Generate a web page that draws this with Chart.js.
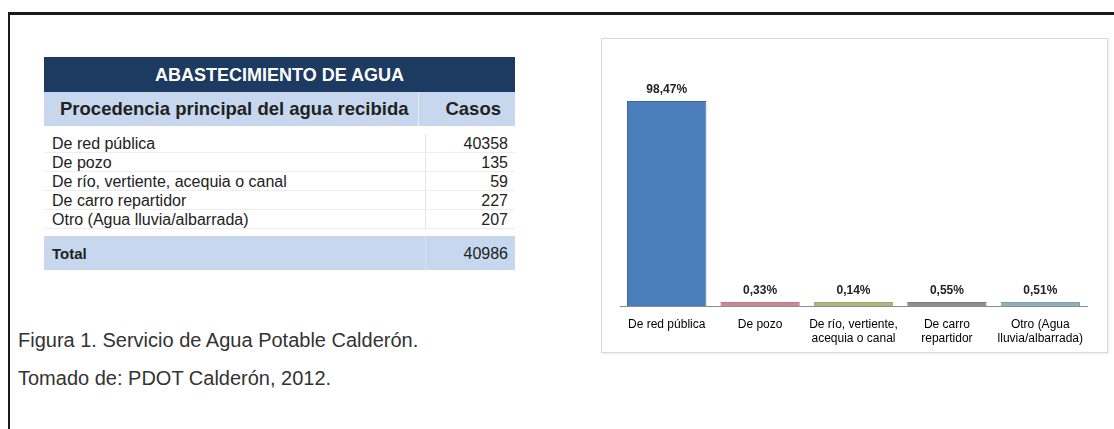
<!DOCTYPE html>
<html>
<head>
<meta charset="utf-8">
<script src="https://cdn.jsdelivr.net/npm/chart.js@4.4.0/dist/chart.umd.min.js"></script>
<style>
  body { margin: 0; background: #fff; font-family: "Liberation Sans", Arial, sans-serif; }
  #page { position: relative; width: 1114px; height: 429px; overflow: hidden; }
  #marco { position: absolute; left: 8px; top: 12px; width: 1200px; height: 500px;
           border-top: 3px solid #1a1a1a; border-left: 2px solid #1a1a1a; }
  #tabla { position: absolute; left: 44px; top: 57px; width: 471px; color: #222; }
  .titulo { height: 35px; line-height: 36px; background: #1d3a60; color: #fff;
            font-weight: bold; font-size: 18px; text-align: center; }
  .cab { height: 34px; line-height: 34px; background: #c7d8ee; font-weight: bold; font-size: 18.5px; display: flex; }
  .filas { padding-top: 8px; }
  .fila { height: 18px; line-height: 19px; font-size: 16px; display: flex; border-bottom: 1px solid #eee; }
  .c1 { flex: 1; padding-left: 8px; border-right: 1px solid #e4e4e4; }
  .c2 { width: 82px; text-align: right; padding-right: 7px; }
  .cab .c1 { padding-left: 16px; border-right: 1px solid #e8eef6; }
  .cab .c2 { text-align: right; padding-right: 14px; }
  .total { margin-top: 7px; height: 34px; line-height: 36px; background: #c7d8ee; font-weight: bold; font-size: 15px; display: flex; }
  .total .c1 { border-right: 1px solid #d6e2f2; }
  .total .c2 { font-weight: normal; font-size: 16px; }
  #grafico { position: absolute; left: 601px; top: 38px; width: 505px; height: 313px; border: 1px solid #d9d9d9;
             box-shadow: 1px 1px 2px rgba(0,0,0,0.08); }
  .nota { position: absolute; left: 18px; font-size: 20px; color: #333; }
</style>
</head>
<body>
<div id="page">
  <div id="marco"></div>
  <div id="tabla"></div>
  <div id="grafico"><canvas id="barras" width="505" height="313"></canvas></div>
  <div class="nota" style="top:329px">Figura 1. Servicio de Agua Potable Calderón.</div>
  <div class="nota" style="top:367px">Tomado de: PDOT Calderón, 2012.</div>
</div>
<script>
const procedencias = ['De red pública', 'De pozo', 'De río, vertiente, acequia o canal', 'De carro repartidor', 'Otro (Agua lluvia/albarrada)'];
const casos = [40358, 135, 59, 227, 207];
const totalCasos = 40986;
const etiquetas = [['De red pública'], ['De pozo'], ['De río, vertiente,', 'acequia o canal'], ['De carro', 'repartidor'], ['Otro (Agua', 'lluvia/albarrada)']];
const porcentajes = [98.47, 0.33, 0.14, 0.55, 0.51];
const colores = ['#4a7ebb', '#c98a92', '#a9b882', '#8f8c99', '#8fb1bf'];
const bordes = ['#3b69a3', '#b87a82', '#97a870', '#7d7a88', '#7c9fae'];

// tabla
let html = '<div class="titulo">ABASTECIMIENTO DE AGUA</div>';
html += '<div class="cab"><div class="c1">Procedencia principal del agua recibida</div><div class="c2">Casos</div></div>';
html += '<div class="filas">';
procedencias.forEach((p, i) => {
    html += '<div class="fila"><div class="c1">' + p + '</div><div class="c2">' + casos[i] + '</div></div>';
});
html += '</div>';
html += '<div class="total"><div class="c1">Total</div><div class="c2">' + totalCasos + '</div></div>';
document.getElementById('tabla').innerHTML = html;

// etiquetas de valor sobre las barras
const valoresPlugin = {
    id: 'valores',
    afterDatasetsDraw(chart) {
        const ctx = chart.ctx;
        const meta = chart.getDatasetMeta(0);
        ctx.save();
        ctx.font = 'bold 12px "Liberation Sans", Arial, sans-serif';
        ctx.fillStyle = '#222';
        ctx.textAlign = 'center';
        ctx.textBaseline = 'bottom';
        meta.data.forEach((bar, i) => {
            ctx.fillText(porcentajes[i].toFixed(2).replace('.', ',') + '%', bar.x, bar.y - 5);
        });
        ctx.restore();
    }
};

const ctx = document.getElementById('barras').getContext('2d');
const chart = new Chart(ctx, {
    type: 'bar',
    data: {
        labels: etiquetas,
        datasets: [{
            data: porcentajes,
            backgroundColor: colores,
            borderColor: bordes,
            borderWidth: 1,
            minBarLength: 4,
            categoryPercentage: 1,
            barPercentage: 0.85
        }]
    },
    options: {
        responsive: false,
        animation: false,
        layout: { padding: { left: 18, right: 20, top: 62, bottom: 0 } },
        scales: {
            x: {
                grid: { display: false, drawTicks: false },
                border: { color: '#8c8c8c', width: 1 },
                ticks: {
                    color: '#000',
                    font: { size: 12, family: '"Liberation Sans", Arial, sans-serif' },
                    padding: 11,
                    maxRotation: 0,
                    autoSkip: false
                },
                afterFit(scale) { scale.height = 46; }
            },
            y: { display: false, min: 0, max: Math.max(...porcentajes) }
        },
        plugins: {
            legend: { display: false },
            tooltip: { enabled: false }
        }
    },
    plugins: [valoresPlugin]
});
</script>
</body>
</html>
